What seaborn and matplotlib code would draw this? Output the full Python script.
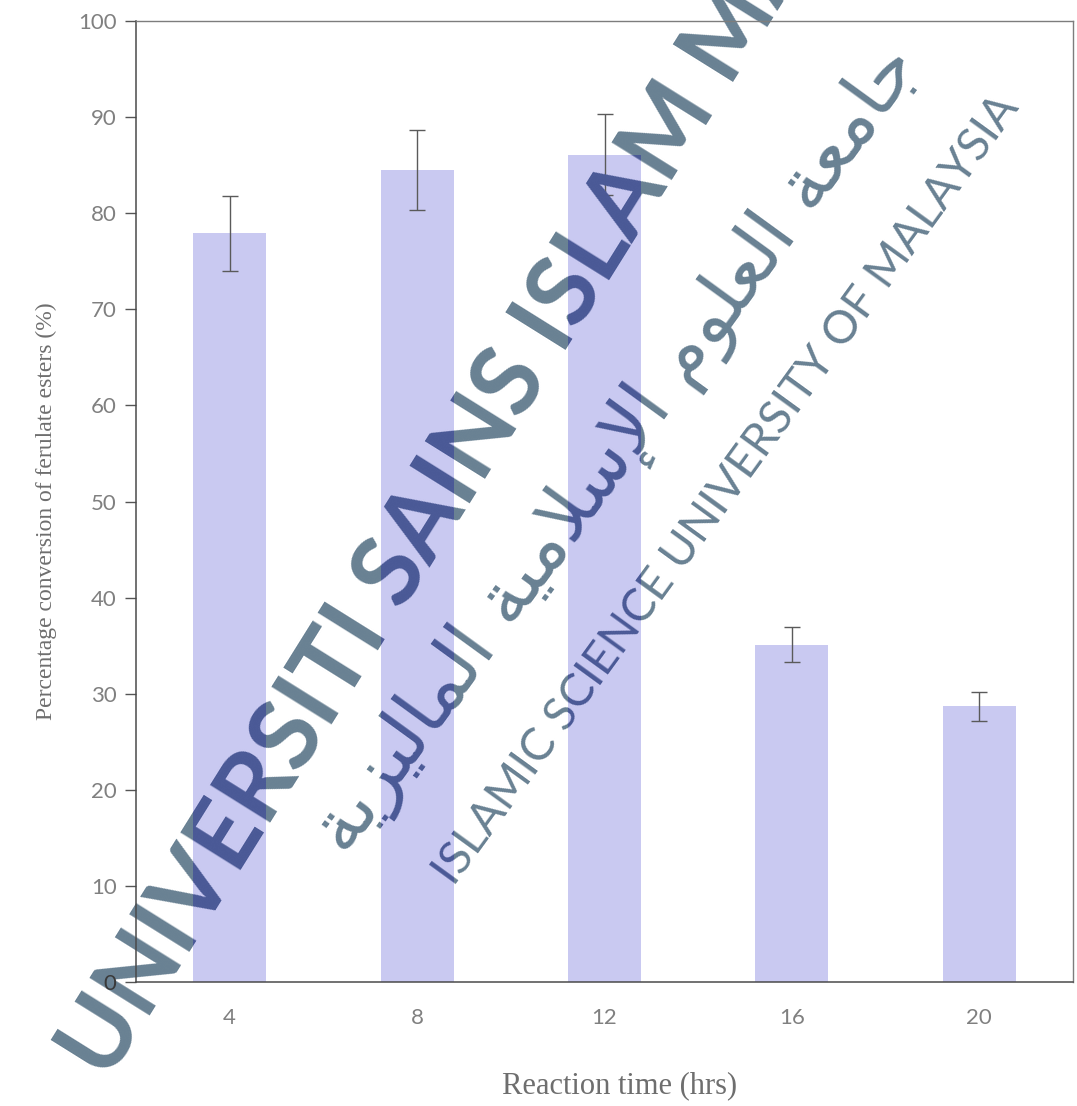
import matplotlib
matplotlib.use("Agg")
import matplotlib.pyplot as plt
import seaborn as sns
import numpy as np
import pandas as pd

# Reaction time (hrs) and conversion (%) with standard deviation
hours = ["4", "8", "12", "16", "20"]
conversion = [77.9, 84.5, 86.1, 35.1, 28.7]
conversion_sd = [3.9, 4.2, 4.2, 1.8, 1.5]
y_ticks = [0, 10, 20, 30, 40, 50, 60, 70, 80, 90, 100]

W, H = 1077, 1106
DPI = 100

sns.set_theme(style="white")
plt.rcParams["font.family"] = ["Lato", "DejaVu Sans"]

fig = plt.figure(figsize=(W / DPI, H / DPI), dpi=DPI)
fig.patch.set_facecolor("white")


def px(x, y):
    """Pixel position (from top-left) to figure fraction."""
    return x / W, 1 - y / H


left, top = px(136, 21)
right, bottom = px(1073, 982)
ax = fig.add_axes([left, bottom, right - left, top - bottom])
ax.patch.set_visible(False)

df = pd.DataFrame({"hours": hours, "conversion": conversion})
sns.barplot(data=df, x="hours", y="conversion", order=hours, color="#c9c9f1",
            saturation=1, width=0.39, errorbar=None, linewidth=0, ax=ax, zorder=2)
ax.errorbar(np.arange(len(hours)), conversion, yerr=conversion_sd, fmt="none",
            ecolor="#5a5a5a", elinewidth=1.0, capsize=5.5, capthick=1.0, zorder=3)

ax.set_ylim(0, 100)
ax.set_xlim(-0.5, len(hours) - 0.5)
ax.set_yticks(y_ticks)
ax.set_yticklabels([str(v) for v in y_ticks], fontsize=16, color="#808080")
ax.get_yticklabels()[0].set_color("#3a3a3a")  # sits on the watermark
ax.set_xticks(np.arange(len(hours)))
ax.set_xticklabels(hours, fontsize=16, color="#808080")
ax.set_xticks(np.arange(-0.5, len(hours)), minor=True)
ax.tick_params(axis="x", which="major", length=0, pad=19)
ax.tick_params(axis="x", which="minor", length=7, width=1, color="#555555", direction="out")
ax.tick_params(axis="y", which="major", length=8, width=1, color="#555555",
               direction="out", pad=6, left=True)
ax.grid(False)

for side in ["left", "bottom"]:
    ax.spines[side].set_color("#4a4a4a")
    ax.spines[side].set_linewidth(1.1)
for side in ["top", "right"]:
    ax.spines[side].set_color("#7d7d7d")
    ax.spines[side].set_linewidth(1.0)

ax.set_xlabel("")
ax.set_ylabel("")
fig.text(*px(620, 1086), "Reaction time (hrs)", ha="center", va="center",
         fontsize=22, color="#6e6e6e", family=["Liberation Serif"])
fig.text(*px(46, 511), "Percentage conversion of ferulate esters (%)", ha="center",
         va="center", rotation=90, fontsize=17, color="#6e6e6e",
         family=["Liberation Serif"])

# University watermark across the plot
arabic_name = ("\uFE94\uFEF3\uFEB0\uFEF4\uFEDF\uFE8E\uFEE4\uFEDF\uFE8D "
               "\uFE94\uFEF4\uFEE3\uFEFC\uFEB3\uFEF9\uFE8D "
               "\uFEE1\uFEEE\uFEE0\uFECC\uFEDF\uFE8D "
               "\uFE94\uFECC\uFEE3\uFE8E\uFE9F")  # presentation forms, visual order

watermark = [
    dict(xy=(108, 1083), s="UNIVERSITI SAINS ISLAM MALAYSIA", rotation=58,
         ha="left", va="baseline", fontsize=70, fontweight="bold",
         family=["Lato", "DejaVu Sans"]),
    dict(xy=(727, 490), s="ISLAMIC SCIENCE UNIVERSITY OF MALAYSIA", rotation=54,
         ha="center", va="center", fontsize=33, fontweight="normal",
         family=["Lato", "DejaVu Sans"]),
    dict(xy=(618, 450), s=arabic_name, rotation=54,
         ha="center", va="center", fontsize=54, fontweight="normal",
         family=["DejaVu Sans"]),
]


def draw_watermark(color, clip=None, alpha=0.92, zorder=10):
    for spec in watermark:
        t = fig.text(*px(*spec["xy"]), spec["s"], rotation=spec["rotation"],
                     rotation_mode="anchor", ha=spec["ha"], va=spec["va"],
                     fontsize=spec["fontsize"], fontweight=spec["fontweight"],
                     family=spec["family"], color=color, alpha=alpha, zorder=zorder)
        if clip is not None:
            t.set_clip_path(clip)


# base layer sits under the axes so ticks and labels stay on top
draw_watermark("#5c7689", zorder=-1)
# darker tint where the watermark crosses the bars
for bar in list(ax.patches):
    draw_watermark("#4a5996", clip=bar, alpha=1.0, zorder=10)

fig.savefig("out.png", dpi=DPI, facecolor="white")
